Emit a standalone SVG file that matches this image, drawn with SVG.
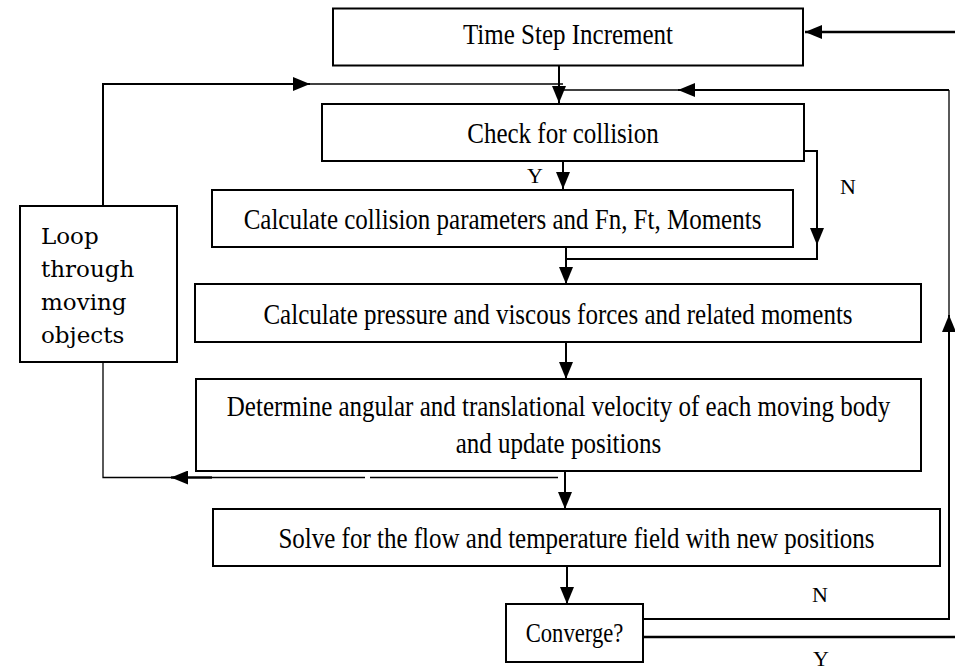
<svg xmlns="http://www.w3.org/2000/svg" width="955" height="670" viewBox="0 0 955 670">
<defs>
<marker id="ah" markerUnits="userSpaceOnUse" viewBox="0 0 17 14" markerWidth="17" markerHeight="14" refX="17" refY="7" orient="auto">
<path d="M0,0 L17,7 L0,14 Z" fill="#000"/>
</marker>
<style>
.box{fill:#fff;stroke:#000;stroke-width:2}
.t{font-family:"Liberation Serif","Times New Roman",serif;font-size:29px;fill:#000;text-anchor:middle}
.lbl{font-family:"Liberation Serif","Times New Roman",serif;font-size:22px;fill:#000;text-anchor:middle}
.loop{font-family:"DejaVu Serif",serif;font-size:23px;fill:#000}
.c{fill:none;stroke:#000;stroke-width:2}
.thin{fill:none;stroke:#000;stroke-width:1.3}
.a{marker-end:url(#ah)}
</style>
</defs>
<rect width="955" height="670" fill="#fff"/>
<g id="connectors">
<line class="c a" x1="955" y1="32" x2="805" y2="32" style="stroke-width:2.5"/>
<line class="c a" x1="559" y1="65" x2="559" y2="103"/>
<polyline class="c a" points="103,206 103,84 310,84"/>
<line class="thin" x1="310" y1="84" x2="563" y2="84"/>
<line class="c a" x1="949" y1="619" x2="949" y2="315"/>
<line class="thin" x1="949" y1="315" x2="949" y2="90"/>
<line class="c a" x1="949" y1="90" x2="678" y2="90"/>
<line class="thin" x1="678" y1="90" x2="560" y2="90"/>
<line class="c a" x1="563" y1="161" x2="563" y2="189"/>
<polyline class="c a" points="804,151 817,151 817,245"/>
<polyline class="c" points="817,245 817,259 566,259"/>
<line class="c a" x1="566" y1="247" x2="566" y2="284"/>
<line class="c a" x1="566" y1="342" x2="566" y2="379"/>
<line class="thin" x1="558" y1="477.5" x2="370" y2="477.5"/>
<line class="thin" x1="365" y1="477.5" x2="212" y2="477.5"/>
<line class="c a" x1="212" y1="477.5" x2="171" y2="477.5" style="stroke-width:2.5"/>
<polyline class="thin" points="171,477.5 103,477.5 103,362"/>
<line class="c a" x1="565" y1="471" x2="565" y2="509"/>
<line class="c a" x1="567" y1="566" x2="567" y2="604"/>
<line class="c" x1="643" y1="619" x2="950" y2="619"/>
<line class="c" x1="643" y1="637" x2="955" y2="637" style="stroke-width:2.5"/>
<text class="lbl" x="535" y="183">Y</text>
<text class="lbl" x="848" y="194">N</text>
<text class="lbl" x="820" y="602">N</text>
<text class="lbl" x="821" y="666">Y</text>
</g>
<g id="time-step">
<rect class="box" x="333" y="8.5" width="470" height="57"/>
<text class="t" transform="translate(568,44) scale(0.862,1)">Time Step Increment</text>
</g>
<g id="check-collision">
<rect class="box" x="322" y="104" width="482" height="57"/>
<text class="t" transform="translate(563,143) scale(0.862,1)">Check for collision</text>
</g>
<g id="collision-params">
<rect class="box" x="212" y="190" width="581" height="57"/>
<text class="t" transform="translate(502.5,229) scale(0.862,1)">Calculate collision parameters and Fn, Ft, Moments</text>
</g>
<g id="pressure-forces">
<rect class="box" x="195" y="284" width="726" height="58"/>
<text class="t" transform="translate(558,324) scale(0.862,1)">Calculate pressure and viscous forces and related moments</text>
</g>
<g id="determine-velocity">
<rect class="box" x="196" y="379" width="725" height="92"/>
<text class="t" transform="translate(558.5,416) scale(0.862,1)">Determine angular and translational velocity of each moving body</text>
<text class="t" transform="translate(558.5,453) scale(0.862,1)">and update positions</text>
</g>
<g id="solve-flow">
<rect class="box" x="213" y="509" width="727" height="57"/>
<text class="t" transform="translate(576.5,548) scale(0.862,1)">Solve for the flow and temperature field with new positions</text>
</g>
<g id="converge">
<rect class="box" x="506" y="604" width="137" height="58"/>
<text class="t" transform="translate(574.5,642) scale(0.838,1)" style="font-size:27px">Converge?</text>
</g>
<g id="loop-objects">
<rect class="box" x="20" y="206" width="157" height="156"/>
<text class="loop" x="41" y="244">Loop</text>
<text class="loop" x="41" y="277">through</text>
<text class="loop" x="41" y="310">moving</text>
<text class="loop" x="41" y="343">objects</text>
</g>
</svg>
